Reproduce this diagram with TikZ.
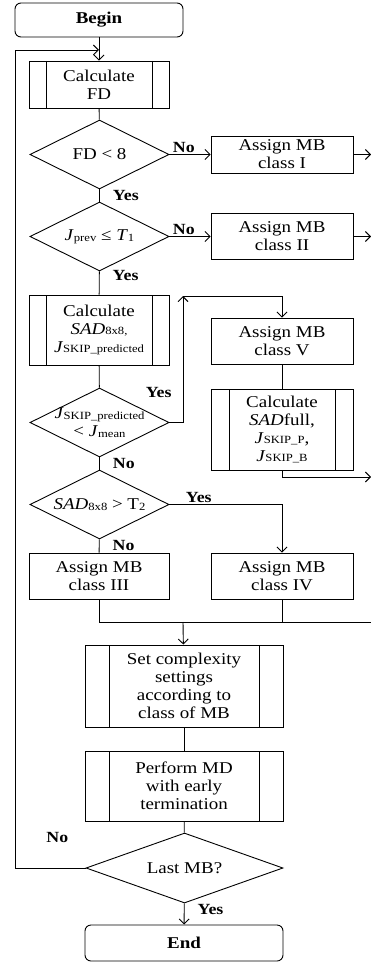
\documentclass[tikz,border=0pt]{standalone}
\usepackage{fontspec}
\setmainfont{Liberation Serif}[FakeStretch=1.15]
\usetikzlibrary{shapes,arrows.meta}
\newcommand{\lo}[1]{\raisebox{-0.1ex}{\fontsize{11}{12}\selectfont #1}}
\begin{document}
\begin{tikzpicture}[x=1pt,y=-1pt,>={Straight Barb[length=5pt,width=10pt]},line width=0.9pt,
    every node/.style={font=\fontsize{16.5}{18}\selectfont},
    box/.style={draw,rectangle,align=center,inner sep=0pt},
    proc/.style={box,path picture={\draw ([xshift=#1]path picture bounding box.north west) -- ([xshift=#1]path picture bounding box.south west) ([xshift=-#1]path picture bounding box.north east) -- ([xshift=-#1]path picture bounding box.south east);}},
    proc/.default=17pt,
    term/.style={box,rounded corners=6pt,font=\fontsize{16.5}{18}\selectfont\bfseries},
    decision/.style={draw,diamond,inner sep=0pt,minimum width=139pt,minimum height=69pt},
    lbl/.style={font=\fontsize{15.5}{16}\selectfont\bfseries,inner sep=1pt}]
                \useasboundingbox (0,0) rectangle (371,965);
                \node[term,minimum width=168pt,minimum height=34pt](begin)at(99, 20){Begin};
                \node[proc,minimum width=140pt,minimum height=47pt](calcfd)at(99, 84.5){Calculate\\FD};
                \node[decision,label=center:{FD < 8}](fd)at(99.5, 154.5){};
                \node[box,minimum width=142pt,minimum height=37pt](cls1)at(282, 154.5){Assign MB\\class I};
                \node[decision,label=center:{\textit{J}\lo{prev} ≤ \textit{T}\lo{1}}](jprev)at(99.5, 236.5){};
                \node[box,minimum width=142pt,minimum height=46pt](cls2)at(282, 236.5){Assign MB\\class II};
                \node[proc,minimum width=140pt,minimum height=70pt](calcsad)at(99, 330){Calculate\\\textit{SAD}\lo{8x8,}\\\textit{J}\lo{SKIP\_predicted}};
                \node[decision,label={[align=center]center:{\textit{J}\lo{SKIP\_predicted}\\< \textit{J}\lo{mean}}}](jskip)at(99.5, 422.5){};
                \node[box,minimum width=142pt,minimum height=46pt](cls5)at(282, 341){Assign MB\\class V};
                \node[proc=18pt,minimum width=142pt,minimum height=81pt](calcfull)at(282, 429.5){Calculate\\\textit{SAD}full,\\\textit{J}\lo{SKIP\_P},\\\textit{J}\lo{SKIP\_B}};
                \node[decision,label=center:{\textit{SAD}\lo{8x8} > T\lo{2}}](sad)at(99.5, 504.5){};
                \node[box,minimum width=140pt,minimum height=46pt](cls3)at(99, 576){Assign MB\\class III};
                \node[box,minimum width=142pt,minimum height=46pt](cls4)at(282, 576){Assign MB\\class IV};
                \node[proc=24pt,minimum width=198pt,minimum height=82pt](setc)at(184, 686){Set complexity\\settings\\according to\\class of MB};
                \node[proc=24pt,minimum width=198pt,minimum height=70pt](perf)at(184, 786){Perform MD\\with early\\termination};
                \node[decision,minimum width=197pt,minimum height=70pt,label=center:{Last MB?}](last)at(184.5, 868){};
                \node[term,minimum width=198pt,minimum height=36pt](end)at(184, 943){End};
                \coordinate(rim)at(371, 0);
                \coordinate(loopx)at(15, 0);
                \coordinate(reentry)at(99, 50);
                \coordinate(turn)at(183, 296);
                \coordinate(join)at(183, 622);
                \coordinate(out3)at(371, 477);
                \draw[->](begin) -- (calcfd);
                \draw(calcfd) -- (fd);
                \draw[->](fd) -- node[lbl,above,pos=0.35]{No} (cls1);
                \draw[->](cls1) -- (cls1 -| rim);
                \draw(fd) -- node[lbl,right=12pt]{Yes} (jprev);
                \draw[->](jprev) -- node[lbl,above,pos=0.35]{No} (cls2);
                \draw[->](cls2) -- (cls2 -| rim);
                \draw(jprev) -- node[lbl,right=12pt,pos=0.2]{Yes} (calcsad);
                \draw(calcsad) -- (jskip);
                \draw[->](jskip) -| node[lbl,left=10pt,pos=0.62]{Yes} (turn);
                \draw[->](turn) -| (cls5);
                \draw(cls5) -- (calcfull);
                \draw[->](calcfull) |- (out3);
                \draw(jskip) -- node[lbl,right=12pt]{No} (sad);
                \draw[->](sad) -| node[lbl,above,pos=0.13]{Yes} (cls4);
                \draw(sad) -- node[lbl,right=12pt]{No} (cls3);
                \draw(cls3) |- (join -| rim);
                \draw(cls4) -- (cls4 |- join);
                \draw[->](join) -- (setc);
                \draw(setc) -- (perf);
                \draw(perf) -- (last);
                \draw[->](last) -| node[lbl,above=24pt,pos=0.2]{No} (loopx |- reentry) -- (reentry);
                \draw[->](last) -- node[lbl,right=12pt,pos=0.3]{Yes} (end);
            \end{tikzpicture}
\end{document}
